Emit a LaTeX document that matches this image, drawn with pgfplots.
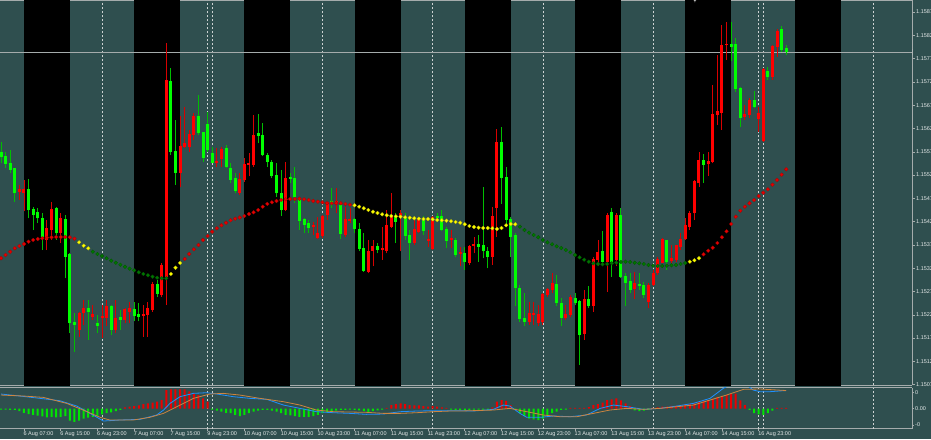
\documentclass[border=0pt]{standalone}
\usepackage{pgfplots}
\pgfplotsset{compat=1.18}
\usepackage{pgfplotstable}
\usepackage{fontspec}
\setmainfont{Liberation Sans}

\definecolor{bg}{RGB}{47,79,79}
\definecolor{frame}{RGB}{165,172,172}
\definecolor{gridc}{RGB}{205,210,210}
\definecolor{lbl}{RGB}{228,232,232}
\definecolor{bull}{RGB}{255,0,0}
\definecolor{bear}{RGB}{0,255,0}
\definecolor{dotred}{RGB}{230,0,0}
\definecolor{dotyel}{RGB}{255,255,0}
\definecolor{dotgrn}{RGB}{0,118,0}
\definecolor{macd}{RGB}{30,144,255}
\definecolor{sig}{RGB}{205,133,63}
\newcommand\lblfont{\fontsize{5.5}{6}\selectfont}

% prices in points above 1.15000 (1 = 0.00001), x = bar number (H1)
% bullish candles (drawn red)
\pgfplotstableread{
k o h l c
4 489 504 472 493
5 487 515 447 493
10 386 429 364 411
11 407 468 386 452
13 400 443 379 432
17 193 232 178 228
18 228 257 203 239
20 221 246 214 225
22 218 246 175 221
23 218 257 200 243
25 193 257 185 218
27 214 239 207 236
28 232 253 207 239
31 223 246 178 226
32 225 253 178 238
33 236 296 232 289
35 268 336 264 331
36 307 809 246 729
39 529 651 500 586
40 586 672 583 592
41 586 622 575 611
42 611 658 600 651
47 552 583 543 555
48 559 586 543 580
52 487 529 482 515
53 515 561 511 547
54 547 572 522 550
55 547 654 543 609
62 450 554 447 518
68 414 425 397 417
69 391 436 388 400
70 394 439 391 437
71 439 468 429 466
73 464 497 443 468
75 396 457 393 430
76 427 454 422 430
80 318 386 314 361
81 363 386 329 371
83 364 414 343 368
84 363 450 357 416
85 414 486 411 439
87 437 450 361 443
90 379 429 375 407
91 402 432 400 429
93 384 407 371 387
94 366 437 364 434
98 386 407 368 389
100 356 371 329 359
102 336 375 332 371
103 373 393 357 375
107 350 457 332 437
108 454 625 393 595
115 210 253 203 228
116 225 253 203 228
117 207 246 200 225
118 210 271 203 268
119 268 282 264 280
120 278 314 271 293
123 218 246 214 225
124 225 268 221 262
127 184 278 171 258
129 243 350 232 344
130 343 386 329 359
132 339 443 275 439
134 343 443 329 439
138 280 318 260 293
141 253 293 239 287
142 289 321 286 314
143 314 350 311 343
144 336 389 336 386
146 341 375 336 346
147 343 375 339 373
148 370 400 364 387
149 387 432 386 416
150 414 447 407 443
151 443 515 429 511
152 507 575 500 557
154 548 575 523 555
155 554 718 550 654
156 654 783 633 661
157 658 847 622 804
158 804 854 772 806
162 650 676 643 654
163 654 690 647 686
165 645 672 618 658
166 599 754 597 751
168 735 804 729 801
169 801 838 779 834
}\upcandles

% bearish candles (drawn green)
\pgfplotstableread{
k o h l c
0 573 597 550 563
1 565 575 540 549
2 550 579 529 536
3 538 540 468 486
6 493 516 432 449
7 450 457 407 439
8 444 454 422 432
9 432 443 364 393
12 454 457 386 400
14 430 439 303 350
15 354 357 185 207
16 208 228 146 203
19 239 257 171 232
21 207 225 185 200
24 243 246 182 193
26 219 236 193 214
29 236 253 211 223
30 225 250 211 221
34 291 300 264 270
37 726 754 568 575
38 575 643 504 529
43 651 698 611 615
44 616 618 554 561
45 634 661 575 579
46 572 586 550 552
49 583 590 540 542
50 540 550 507 515
51 517 529 486 490
56 615 656 593 608
57 609 636 565 568
58 568 572 543 554
59 552 557 518 523
60 523 550 479 486
61 486 536 437 449
63 520 529 507 517
64 517 543 465 477
65 472 479 407 427
66 429 432 400 418
67 422 429 400 412
72 468 497 454 463
74 459 464 387 398
77 429 432 400 409
78 409 422 361 366
79 368 400 318 320
82 371 379 357 364
86 437 443 379 425
88 432 443 386 394
89 395 407 343 379
92 430 437 397 404
95 436 443 429 432
96 437 449 404 407
97 409 414 368 384
99 384 389 350 354
101 357 371 321 339
104 375 397 339 371
105 373 500 346 361
106 361 371 325 349
109 595 629 464 518
110 520 543 414 429
111 430 436 350 393
112 396 400 243 282
113 282 289 210 215
114 218 271 200 210
121 291 311 243 250
122 250 261 200 218
125 259 271 246 250
126 253 257 117 182
128 258 286 239 243
131 361 404 329 339
133 444 454 307 339
135 439 454 303 306
136 308 314 244 294
137 296 314 271 278
139 291 314 278 287
140 287 296 261 268
145 384 386 321 339
153 557 570 509 547
159 806 854 769 801
160 806 819 704 709
161 711 715 629 647
164 685 706 668 671
167 747 758 729 735
170 837 844 790 794
171 796 804 783 789
}\downcandles

% moving average dots, by colour
\pgfplotstableread{
k v
0 346.4
1 353.5
2 360.5
3 367.8
4 372.8
5 377.1
6 382.0
7 385.7
8 387.8
9 389.3
10 390.6
11 391.5
12 392.1
13 392.1
14 392.1
15 391.5
16 388.5
40 344.9
41 355.6
42 365.7
43 374.9
44 385.7
45 394.3
46 403.5
47 410.8
48 417.2
49 422.8
50 428.0
51 431.4
52 434.0
53 437.2
54 441.5
55 445.1
56 450.1
57 457.2
58 463.0
59 466.6
60 469.4
61 471.5
62 473.0
63 473.7
64 473.7
65 474.3
66 473.0
67 471.5
68 469.4
69 467.9
70 466.6
71 464.5
72 464.5
73 464.5
74 464.5
75 463.0
76 461.5
153 355.0
154 362.7
155 369.1
156 379.2
157 391.5
158 404.3
159 420.0
160 435.7
161 448.6
162 457.2
163 464.5
164 471.5
165 480.1
166 487.2
167 494.5
168 504.4
169 514.5
170 525.9
171 537.4
}\mared

\pgfplotstableread{
k v
17 380.7
18 373.4
19 367.8
37 312.7
38 326.2
39 336.3
77 460.2
78 457.2
79 453.7
80 450.1
81 446.4
82 443.6
83 440.8
84 438.7
85 437.2
86 436.5
87 435.7
88 434.4
89 433.5
90 432.3
91 431.4
92 430.7
93 430.7
94 430.1
95 428.6
96 428.0
97 427.1
98 425.8
99 424.3
100 422.8
101 419.4
102 415.7
103 413.6
104 412.1
105 411.4
106 411.4
107 410.8
108 409.3
109 411.4
110 417.2
111 420.0
112 419.4
150 339.1
151 342.1
152 346.4
}\mayel

\pgfplotstableread{
k v
20 360.5
21 355.6
22 351.3
23 346.4
24 341.2
25 336.9
26 332.6
27 328.3
28 324.1
29 320.6
30 316.3
31 312.7
32 309.9
33 306.9
34 304.7
35 303.4
36 303.4
113 414.2
114 407.1
115 401.3
116 396.4
117 391.5
118 385.7
119 380.7
120 376.4
121 372.1
122 368.5
123 364.2
124 359.3
125 353.5
126 348.5
127 343.4
128 339.1
129 335.6
130 334.1
131 333.5
132 334.1
133 335.6
134 336.9
135 338.4
136 339.1
137 338.4
138 336.9
139 335.6
140 334.1
141 332.0
142 330.5
143 329.9
144 329.9
145 330.5
146 331.4
147 332.0
148 334.1
149 336.3
}\magrn

% oscillator window (1 = 0.00001)
\pgfplotstableread{
k v
27 3
28 5
29 6
30 8
31 11
32 13
33 15
34 17
35 21
36 45
37 47
38 47
39 47
40 47
41 42
42 37
43 33
44 25
45 17
84 2
85 9
86 11
87 13
88 11
89 9
90 8
91 8
92 6
93 5
94 6
95 5
96 3
97 2
107 3
108 17
109 21
110 19
111 9
124 2
125 2
126 2
127 2
128 4
129 9
130 11
131 15
132 21
133 23
134 25
135 20
136 13
137 6
142 2
143 3
144 5
145 5
146 7
147 7
148 8
149 10
150 11
151 13
152 16
153 18
154 21
155 24
156 28
157 31
158 33
159 36
160 37
161 20
162 9
169 2
170 2
171 2
}\histup

\pgfplotstableread{
k v
0 -2
1 -2
2 -3
3 -3
4 -6
5 -10
6 -13
7 -15
8 -17
9 -19
10 -21
11 -20
12 -21
13 -20
14 -18
15 -29
16 -32
17 -29
18 -24
19 -22
20 -20
21 -18
22 -14
23 -11
24 -9
25 -6
26 -3
46 -2
47 -5
48 -7
49 -10
50 -11
51 -15
52 -18
53 -15
54 -11
55 -7
56 -5
57 -3
58 -3
59 -5
60 -7
61 -11
62 -15
63 -16
64 -18
65 -20
66 -20
67 -20
68 -18
69 -15
70 -11
71 -9
72 -6
73 -5
74 -3
75 -3
76 -2
77 -3
78 -4
79 -6
80 -8
81 -6
82 -4
83 -2
98 -2
99 -3
100 -3
101 -3
102 -3
103 -2
104 -2
105 -2
106 -2
112 -3
113 -11
114 -18
115 -24
116 -26
117 -28
118 -24
119 -15
120 -11
121 -7
122 -3
123 -2
138 -4
139 -6
140 -5
141 -3
163 -3
164 -11
165 -14
166 -15
167 -11
168 -5
}\histdown

\pgfplotstableread{
k v
0 35.8
4.1 30.9
8.5 25.2
12.8 19.5
16.5 6.5
19.4 -11.4
22.3 -30.1
25.9 -27.6
30.3 -26.0
33.9 -15.4
35.4 -3.3
36.8 13.0
39.0 29.3
41.9 37.4
44.8 39.0
47.0 35.8
50.6 29.3
54.2 25.2
57.9 22.8
61.5 8.9
65.1 0.8
68.7 -7.3
72.4 -9.8
76.0 -11.4
79.6 -13.8
83.3 -13.0
86.9 -7.3
90.5 -5.7
94.1 -4.9
97.8 -4.9
100.0 -4.9
102.9 -5.7
107.2 -1.6
109.4 8.9
110.8 6.5
113.0 -11.4
114.5 -21.1
117.4 -21.1
120.3 -17.9
124.0 -19.5
127.5 -15.4
130.5 0.8
133.4 8.9
136.3 4.9
139.9 -1.6
143.5 0.8
147.2 6.5
150.8 13.0
154.4 25.2
157.3 49.6
159.5 61.8
162.4 57.7
163.8 45.5
165.3 41.5
167.5 41.5
170.4 43.9
171.0 44.0
}\macdline

\pgfplotstableread{
k v
0 33.3
4.9 30.9
9.2 27.6
14.3 13.0
17.9 -3.3
21.6 -21.1
23.7 -27.6
28.8 -27.6
32.4 -21.1
35.4 -11.4
38.3 4.9
41.9 25.2
45.5 35.8
48.4 37.4
52.0 33.3
56.4 25.2
61.5 17.1
65.1 8.9
68.7 -3.3
72.4 -7.3
76.0 -8.1
79.6 -8.9
83.3 -11.4
86.9 -11.4
90.5 -9.8
94.1 -7.3
97.8 -5.7
100.0 -5.7
107.2 -3.3
110.8 0.8
114.5 -7.3
118.1 -15.4
121.7 -19.5
125.4 -19.5
129.0 -11.4
132.6 -3.3
136.3 0.8
139.9 -1.6
143.5 0.8
147.2 4.9
150.8 8.9
154.4 21.1
158.0 33.3
161.7 47.2
165.3 48.0
170.4 44.7
171.0 44.5
}\signalline

\pgfplotsset{
  mtchart/.style={
    scale only axis, width=912pt,
    xmin=-0.218, xmax=198.39,
    axis x line*=box, axis y line*=right,
    axis line style={draw=frame, line width=0.8pt},
    tick align=outside, major tick length=3pt,
    tick style={draw=frame, line width=0.6pt},
    xtick pos=left,
    major grid style={draw=gridc, line width=0.7pt, dash pattern=on 2pt off 2pt},
    ticklabel style={font=\lblfont, text=lbl},
    yticklabel style={anchor=west, inner sep=1pt},
  },
  wick/.style 2 args={draw=none, no marks,
    error bars/.cd, y dir=plus, y explicit, error mark=none,
    error bar style={draw=#1, solid, line width=#2}},
  madot/.style={only marks, mark=*, mark size=1.85pt,
    mark options={fill=#1, draw=#1!75!black, line width=0.3pt}},
}

\begin{document}
\begin{tikzpicture}
\fill[bg] (0,0) rectangle (931pt,439pt);
\useasboundingbox (0,0) rectangle (931pt,439pt);

\begin{axis}[mtchart,
  at={(0pt,439pt)}, anchor=north west, height=385.5pt,
  ymin=73.3, ymax=900.9,
  xtick={22,45,46,70,94,118,142,165,166,190}, xticklabels={,,,,,,,,,},
  x tick style={draw=none}, xmajorgrids,
  ytick={75,125,...,875},
  yticklabels={1.15075,1.15125,1.15175,1.15225,1.15275,1.15325,1.15375,1.15425,
    1.15475,1.15525,1.15575,1.15625,1.15675,1.15725,1.15775,1.15825,1.15875},
]
% session bands
\addplot[fill=black, draw=none] coordinates {(5,0) (5,1000) (15,1000) (15,0)};
\addplot[fill=black, draw=none] coordinates {(29,0) (29,1000) (39,1000) (39,0)};
\addplot[fill=black, draw=none] coordinates {(53,0) (53,1000) (63,1000) (63,0)};
\addplot[fill=black, draw=none] coordinates {(77,0) (77,1000) (87,1000) (87,0)};
\addplot[fill=black, draw=none] coordinates {(101,0) (101,1000) (111,1000) (111,0)};
\addplot[fill=black, draw=none] coordinates {(125,0) (125,1000) (135,1000) (135,0)};
\addplot[fill=black, draw=none] coordinates {(149,0) (149,1000) (159,1000) (159,0)};
\addplot[fill=black, draw=none] coordinates {(173,0) (173,1000) (183,1000) (183,0)};
% current price line
\addplot[draw=frame, line width=0.7pt] coordinates {(-1,789) (200,789)};
% candles: wicks then bodies
\addplot[wick={bull!85!black}{0.9pt}] table[x=k, y=l, y error plus expr=\thisrow{h}-\thisrow{l}] {\upcandles};
\addplot[wick={bear!75!black}{0.9pt}] table[x=k, y=l, y error plus expr=\thisrow{h}-\thisrow{l}] {\downcandles};
\addplot[wick={bull}{3pt}] table[x=k, y=o, y error plus expr=\thisrow{c}-\thisrow{o}+1.2] {\upcandles};
\addplot[wick={bear}{3pt}] table[x=k, y=c, y error plus expr=\thisrow{o}-\thisrow{c}+1.2] {\downcandles};
% moving average dots
\addplot[madot=dotred] table[x=k, y=v] {\mared};
\addplot[madot=dotyel] table[x=k, y=v] {\mayel};
\addplot[madot=dotgrn] table[x=k, y=v] {\magrn};
% object marker at the top edge
\addplot[only marks, mark=triangle*, mark size=2pt,
  mark options={rotate=180, fill=gray!55, draw=none}] coordinates {(151.1,899.5)};
\node[fill=white, text=black, font=\lblfont, inner sep=0.8pt, anchor=west] at (axis cs:198.39,789) {1.15789};
\end{axis}

\begin{axis}[mtchart,
  at={(0pt,51.5pt)}, anchor=north west, height=41pt,
  ymin=-48.3, ymax=51.7,
  xtick={5,13,...,165}, major tick length=2pt,
  xticklabels={6 Aug 07:00,6 Aug 15:00,6 Aug 23:00,7 Aug 07:00,7 Aug 15:00,9 Aug 23:00,
    10 Aug 07:00,10 Aug 15:00,10 Aug 23:00,11 Aug 07:00,11 Aug 15:00,11 Aug 23:00,
    12 Aug 07:00,12 Aug 15:00,12 Aug 23:00,13 Aug 07:00,13 Aug 15:00,13 Aug 23:00,
    14 Aug 07:00,14 Aug 15:00,16 Aug 23:00},
  xticklabel style={anchor=north west, inner sep=0pt, xshift=-0.5pt, yshift=-0.5pt},
  extra x ticks={22,45,46,70,94,118,142,165,166,190}, extra x tick labels={,,,,,,,,,},
  extra x tick style={grid=major, major tick length=0pt},
  ytick={-40,0,40}, yticklabels={-0,0.00,0},
]
\addplot[ybar, bar width=2pt, bar shift=0pt, fill=bull!92!black, draw=none] table[x=k, y=v] {\histup};
\addplot[ybar, bar width=2pt, bar shift=0pt, fill=bear!90!black, draw=none] table[x=k, y=v] {\histdown};
\addplot[draw=macd, line width=0.8pt] table[x=k, y=v] {\macdline};
\addplot[draw=sig, line width=0.8pt] table[x=k, y=v] {\signalline};
\node[anchor=north west, inner sep=0pt, font=\lblfont, text=lbl, xshift=-0.5pt, yshift=-2.5pt] at (axis cs:-3,-48.3) {5 Aug 23:00};
\end{axis}
\end{tikzpicture}
\end{document}
